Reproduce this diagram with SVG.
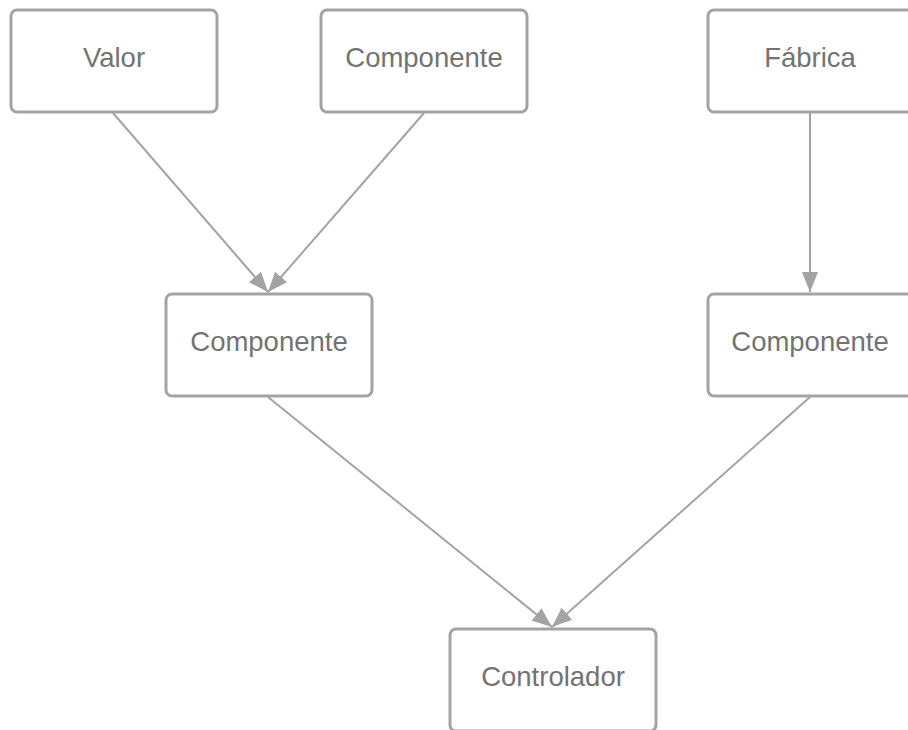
<svg xmlns="http://www.w3.org/2000/svg" width="908" height="730" viewBox="0 0 908 730">
  <style>
    .box { fill: #ffffff; stroke: #a3a3a3; stroke-width: 3; }
    .label { font-family: "Liberation Sans", Arial, sans-serif; font-size: 27.5px; fill: #737373; text-anchor: middle; dominant-baseline: central; }
    .edge { stroke: #a3a3a3; stroke-width: 2; fill: none; marker-end: url(#arrow); }
  </style>
  <defs>
    <marker id="arrow" viewBox="0 0 20 16" refX="20" refY="8" markerWidth="20" markerHeight="16" markerUnits="userSpaceOnUse" orient="auto">
      <path d="M0,0 L20,8 L0,16 Z" fill="#a3a3a3"/>
    </marker>
  </defs>
  <rect width="908" height="730" fill="#ffffff"/>

  <g id="connectors">
    <line class="edge" x1="113" y1="113" x2="268" y2="292"/>
    <line class="edge" x1="424" y1="113" x2="268" y2="292"/>
    <line class="edge" x1="810" y1="113" x2="810" y2="292"/>
    <line class="edge" x1="268" y1="397" x2="552" y2="627"/>
    <line class="edge" x1="810" y1="397" x2="552" y2="627"/>
  </g>

  <g id="valor">
    <rect class="box" x="11" y="10" width="206" height="102" rx="6"/>
    <text class="label" x="114" y="57">Valor</text>
  </g>
  <g id="componente-top">
    <rect class="box" x="321" y="10" width="206" height="102" rx="6"/>
    <text class="label" x="424" y="57">Componente</text>
  </g>
  <g id="fabrica">
    <rect class="box" x="708" y="10" width="206" height="102" rx="6"/>
    <text class="label" x="810" y="57">Fábrica</text>
  </g>
  <g id="componente-left">
    <rect class="box" x="166" y="294" width="206" height="102" rx="6"/>
    <text class="label" x="269" y="341">Componente</text>
  </g>
  <g id="componente-right">
    <rect class="box" x="708" y="294" width="206" height="102" rx="6"/>
    <text class="label" x="810" y="341">Componente</text>
  </g>
  <g id="controlador">
    <rect class="box" x="450" y="629" width="206" height="102" rx="6"/>
    <text class="label" x="553" y="676">Controlador</text>
  </g>
</svg>
